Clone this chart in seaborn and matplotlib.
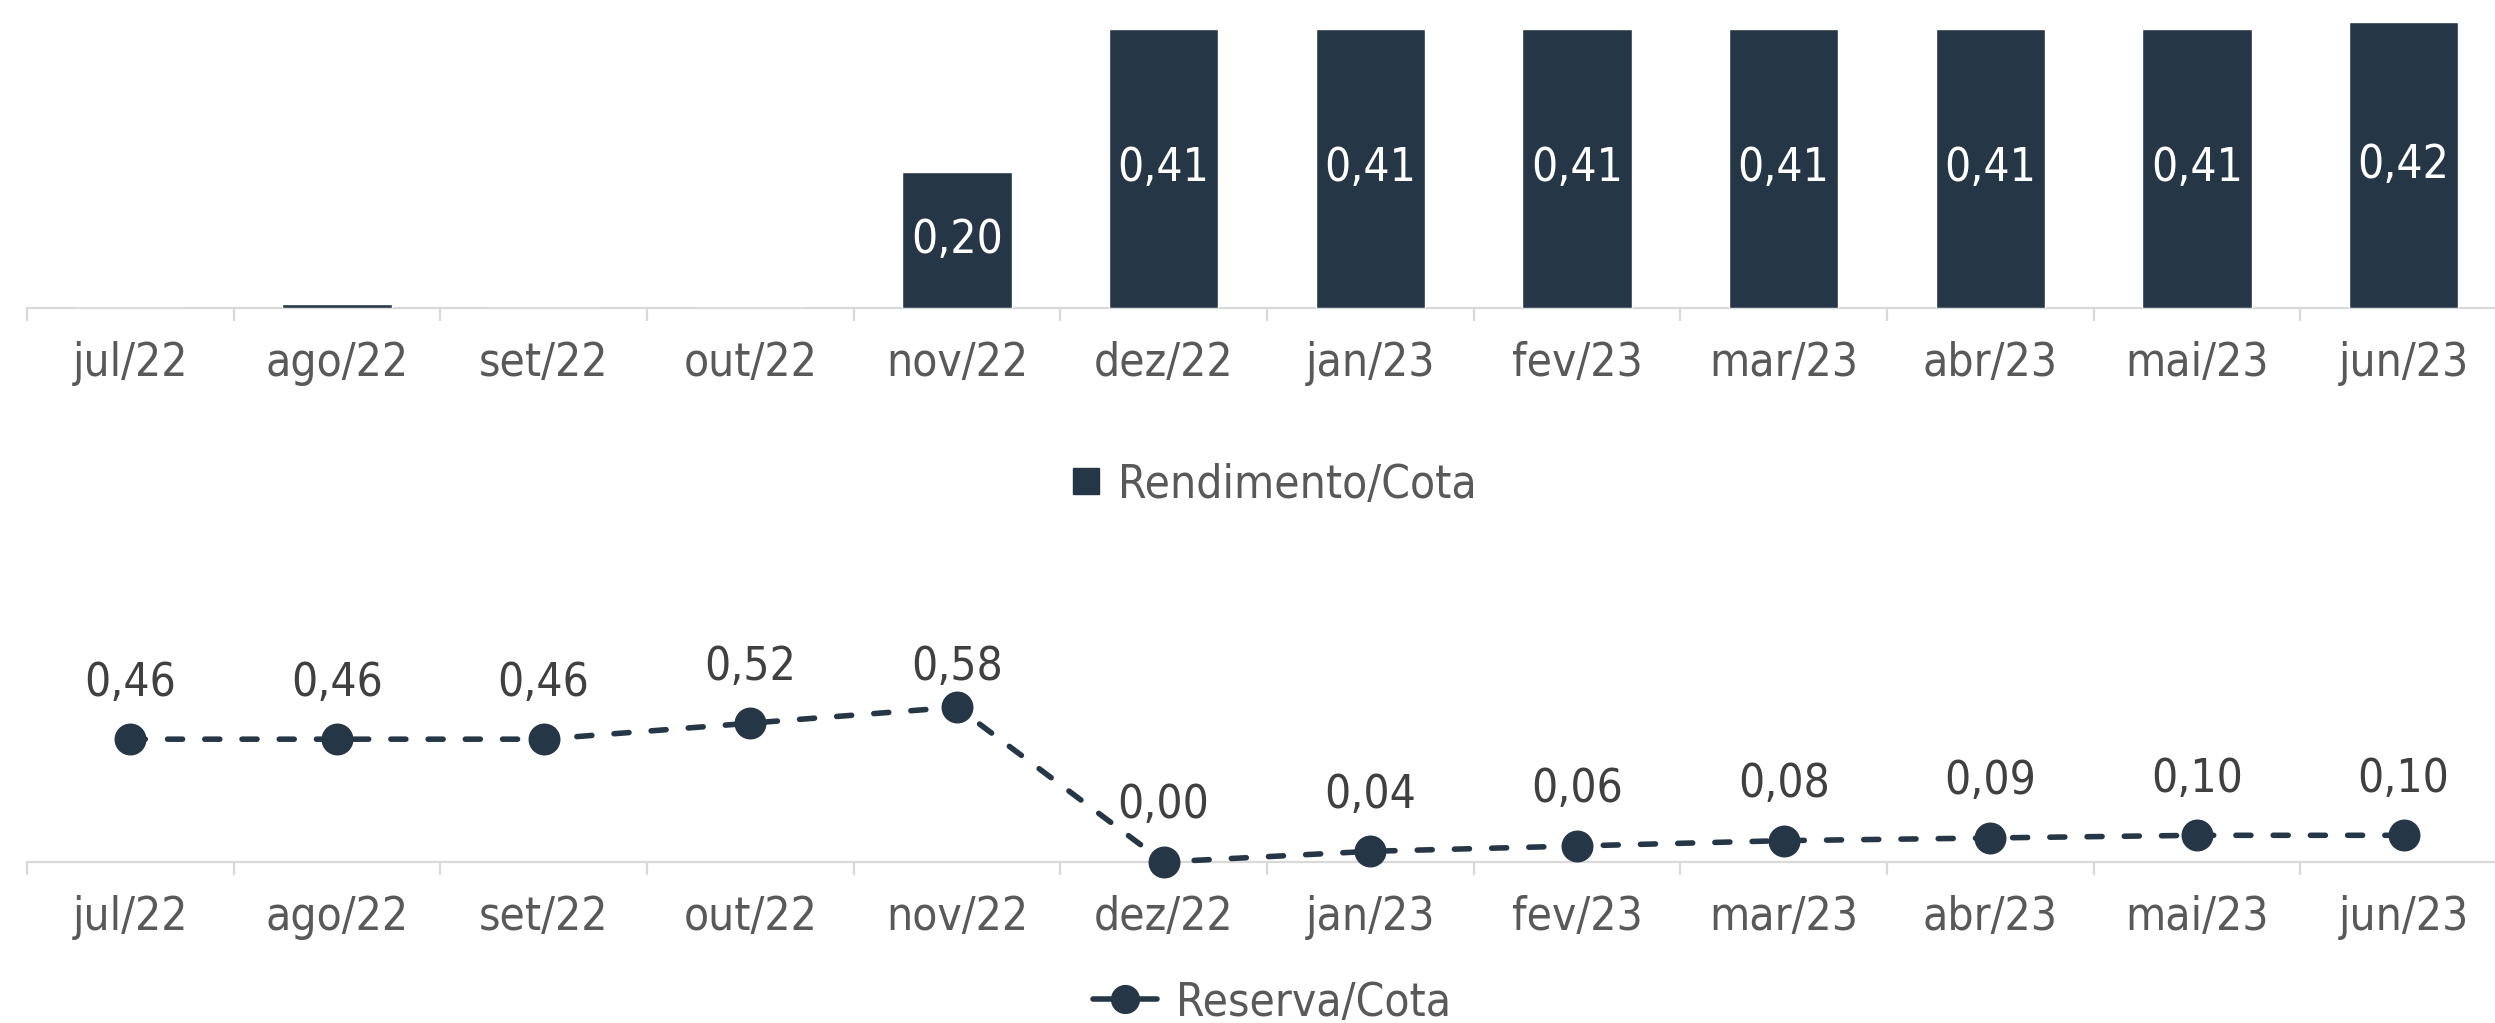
import numpy as np
import seaborn as sns
import matplotlib.pyplot as plt
from matplotlib.lines import Line2D

months = ["jul/22", "ago/22", "set/22", "out/22", "nov/22", "dez/22",
          "jan/23", "fev/23", "mar/23", "abr/23", "mai/23", "jun/23"]
rendimento = [0.0, 0.006, 0.0, 0.0, 0.20, 0.41, 0.41, 0.41, 0.41, 0.41, 0.41, 0.42]
reserva = [0.46, 0.46, 0.46, 0.52, 0.58, 0.00, 0.04, 0.06, 0.08, 0.09, 0.10, 0.10]

navy = "#253746"
axis_grey = "#d9d9d9"
tick_grey = "#595959"
label_grey = "#404040"

sns.set_style("white")
plt.rcParams["font.family"] = ["DejaVu Sans"]
plt.rcParams["font.stretch"] = "condensed"

W, H = 2495, 1023
fig = plt.figure(figsize=(W / 100, H / 100), dpi=100)

left = 27 / W
width = 2480 / W
ax1 = fig.add_axes([left, 1 - 308 / H, width, 308 / H])
ax2 = fig.add_axes([left, 1 - 862 / H, width, 222 / H])


def fmt(v):
    return f"{v:.2f}".replace(".", ",")


def style_axis(ax):
    ax.set_xlim(-0.5, 11.5)
    for s in ["top", "left", "right"]:
        ax.spines[s].set_visible(False)
    ax.spines["bottom"].set_color(axis_grey)
    ax.spines["bottom"].set_linewidth(1.6)
    ax.spines["bottom"].set_zorder(0.5)
    ax.set_yticks([])
    ax.set_ylabel("")
    ax.set_xlabel("")
    ax.set_xticks(range(len(months)))
    ax.set_xticklabels(months)
    ax.set_xticks(np.arange(-0.5, len(months), 1), minor=True)
    ax.tick_params(axis="x", which="major", length=0, pad=24,
                   labelsize=33, labelcolor=tick_grey)
    ax.tick_params(axis="x", which="minor", length=9, width=1.6,
                   color=axis_grey, direction="out", bottom=True)


# top: bars
sns.barplot(x=months, y=rendimento, color=navy, saturation=1, width=0.53, ax=ax1)
ax1.set_ylim(0, 308 / 680)
ax1.bar_label(ax1.containers[0],
              labels=[fmt(v) if v >= 0.01 else "" for v in rendimento],
              label_type="center", color="white", fontsize=33)
style_axis(ax1)

# bottom: dashed line
sns.pointplot(x=months, y=reserva, color=navy, markers="o", linestyles="--",
              errorbar=None, markersize=20, linewidth=4, ax=ax2)
ax2.set_ylim(0, 222 / 267)
for ln in ax2.lines:
    ln.set_dashes((2.7, 4))
    ln.set_dash_capstyle("round")
    ln.set_clip_on(False)
lift, cap = 0.21, 0.73
for i, v in enumerate(reserva):
    ax2.annotate(fmt(v), xy=(i, v), xytext=(i, min(v + lift, cap)),
                 textcoords="data", ha="center", va="center",
                 fontsize=33, color=label_grey)
style_axis(ax2)

# legends
h1 = Line2D([], [], marker="s", ms=19, color=navy, ls="")
fig.legend([h1], ["Rendimento/Cota"], loc="center", frameon=False,
           bbox_to_anchor=(1272 / W, 1 - 485 / H), fontsize=33,
           labelcolor=tick_grey, handletextpad=0.3, handlelength=0.8)
h2 = Line2D([], [], marker="o", ms=20, color=navy, lw=4)
fig.legend([h2], ["Reserva/Cota"], loc="center", frameon=False,
           bbox_to_anchor=(1272 / W, 1 - 1003 / H), fontsize=33,
           labelcolor=tick_grey, handletextpad=0.4, handlelength=1.4)

fig.savefig("out.png", dpi=100)
